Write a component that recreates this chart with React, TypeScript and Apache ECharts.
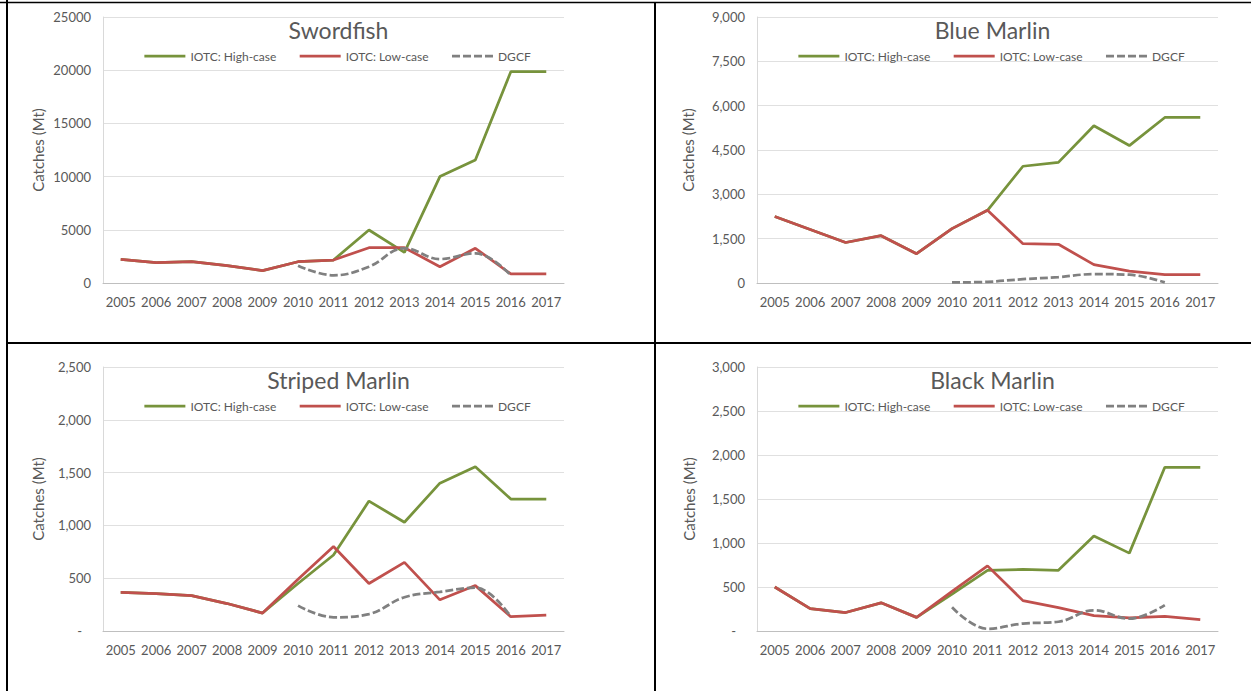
import React, { useEffect, useRef } from "react";
import * as echarts from "echarts";

// Catch series per species, 2005–2017 (metric tonnes)
const years = ["2005", "2006", "2007", "2008", "2009", "2010", "2011", "2012", "2013", "2014", "2015", "2016", "2017"];

const seriesNames = ["IOTC: High-case", "IOTC: Low-case", "DGCF"];

const swordfishHigh = [2230, 1910, 2000, 1630, 1160, 2000, 2160, 4980, 2880, 10000, 11560, 19860, 19860];
const swordfishLow = [2230, 1910, 2000, 1630, 1160, 2000, 2160, 3320, 3320, 1530, 3260, 850, 850];
const swordfishDgcf = [null, null, null, null, null, 1630, 720, 1530, 3260, 2250, 2790, 720, null];

const blueHigh = [2250, 1810, 1370, 1600, 990, 1840, 2460, 3950, 4080, 5320, 4650, 5600, 5600];
const blueLow = [2250, 1810, 1370, 1600, 990, 1840, 2460, 1330, 1310, 620, 400, 280, 280];
const blueDgcf = [null, null, null, null, null, 20, 40, 130, 200, 300, 280, 20, null];

const stripedHigh = [365, 355, 335, 260, 170, 450, 720, 1230, 1030, 1400, 1555, 1250, 1250];
const stripedLow = [365, 355, 335, 260, 170, 490, 800, 450, 650, 295, 430, 135, 150];
const stripedDgcf = [null, null, null, null, null, 240, 130, 160, 320, 370, 410, 135, null];

const blackHigh = [500, 255, 210, 320, 155, 420, 690, 700, 690, 1080, 885, 1860, 1860];
const blackLow = [500, 255, 210, 320, 155, 450, 740, 345, 265, 175, 150, 165, 130];
const blackDgcf = [null, null, null, null, null, 270, 25, 85, 105, 235, 140, 295, null];

const panelTitles = ["Swordfish", "Blue Marlin", "Striped Marlin", "Black Marlin"];
const yMax = [25000, 9000, 2500, 3000];
const yStep = [5000, 1500, 500, 500];

const GREEN = "#77933C";
const RED = "#C0504D";
const GREY = "#808080";
const TEXT = "#595959";
const FONT = "Lato, 'Open Sans', sans-serif";

type Fmt = (v: number) => string;
const plain: Fmt = (v) => String(v);
const comma: Fmt = (v) => v.toLocaleString("en-US");
const accounting: Fmt = (v) => (v === 0 ? "{dash|-}" : v.toLocaleString("en-US"));

const panelData = [
  [swordfishHigh, swordfishLow, swordfishDgcf],
  [blueHigh, blueLow, blueDgcf],
  [stripedHigh, stripedLow, stripedDgcf],
  [blackHigh, blackLow, blackDgcf],
];
const labelFormats: Fmt[] = [plain, comma, accounting, accounting];
const nameGaps = [58, 62, 58, 61];

// grid boxes in page pixels
const grids = [
  { left: 103, top: 17, width: 461, height: 266 },
  { left: 757, top: 17, width: 461, height: 266 },
  { left: 103, top: 367, width: 461, height: 264 },
  { left: 757, top: 367, width: 461, height: 264 },
];

export default function App() {
  const ref = useRef<HTMLDivElement>(null);

  useEffect(() => {
    if (!ref.current) return;
    const chart = echarts.init(ref.current, null, { renderer: "svg" });

    const series: any[] = [];
    panelData.forEach((sets, i) => {
      sets.forEach((data, k) => {
        series.push({
          type: "line",
          name: seriesNames[k],
          xAxisIndex: i,
          yAxisIndex: i,
          data,
          symbol: "none",
          smooth: k === 2 ? 0.4 : false,
          connectNulls: false,
          lineStyle: {
            color: [GREEN, RED, GREY][k],
            width: 2.75,
            type: k === 2 ? [8, 3] : "solid",
            cap: "butt",
          },
          itemStyle: { color: [GREEN, RED, GREY][k] },
        });
      });
    });

    const option: any = {
      animation: false,
      backgroundColor: "#ffffff",
      textStyle: { fontFamily: FONT },
      title: grids.map((g, i) => ({
        text: panelTitles[i],
        left: g.left + g.width / 2,
        top: g.top - 4,
        textAlign: "center",
        textStyle: { fontFamily: FONT, fontSize: 23, fontWeight: "normal", color: TEXT },
      })),
      legend: grids.map((g) => ({
        data: seriesNames,
        left: g.left + 40,
        top: g.top + 33,
        padding: 0,
        itemWidth: 41,
        itemHeight: 14,
        itemGap: 22,
        selectedMode: false,
        itemStyle: { opacity: 0 },
        lineStyle: { width: 2.75 },
        textStyle: { fontFamily: FONT, fontSize: 12, color: TEXT },
      })),
      grid: grids.map((g) => ({ ...g, containLabel: false })),
      xAxis: grids.map((_, i) => ({
        type: "category",
        gridIndex: i,
        data: years,
        boundaryGap: true,
        axisTick: { show: false },
        axisLine: { lineStyle: { color: "#bfbfbf", width: 1 } },
        axisLabel: { color: TEXT, fontFamily: FONT, fontSize: 13, margin: 12, interval: 0 },
      })),
      yAxis: grids.map((_, i) => ({
        type: "value",
        gridIndex: i,
        min: 0,
        max: yMax[i],
        interval: yStep[i],
        name: "Catches (Mt)",
        nameLocation: "middle",
        nameGap: nameGaps[i],
        nameTextStyle: { color: TEXT, fontFamily: FONT, fontSize: 15 },
        axisLine: { show: true, lineStyle: { color: "#d9d9d9" } },
        axisTick: { show: false },
        splitLine: { lineStyle: { color: "#e0e0e0" } },
        axisLabel: {
          color: TEXT,
          fontFamily: FONT,
          fontSize: 13,
          margin: 12,
          formatter: labelFormats[i],
          rich: { dash: { color: TEXT, fontFamily: FONT, fontSize: 13, padding: [0, 9, 0, 0] } },
        },
      })),
      series,
      graphic: [
        { type: "line", shape: { x1: 7, y1: 0, x2: 7, y2: 691 }, style: { stroke: "#000", lineWidth: 2 } },
        { type: "line", shape: { x1: 0, y1: 2.5, x2: 1251, y2: 2.5 }, style: { stroke: "#000", lineWidth: 1.5 } },
        { type: "line", shape: { x1: 655, y1: 2, x2: 655, y2: 691 }, style: { stroke: "#000", lineWidth: 2 } },
        { type: "line", shape: { x1: 6, y1: 343, x2: 1251, y2: 343 }, style: { stroke: "#000", lineWidth: 2 } },
      ],
    };

    chart.setOption(option);
    return () => chart.dispose();
  }, []);

  return (
    <div
      ref={ref}
      style={{ position: "absolute", left: 0, top: 0, width: 1251, height: 691, background: "#fff" }}
    />
  );
}
